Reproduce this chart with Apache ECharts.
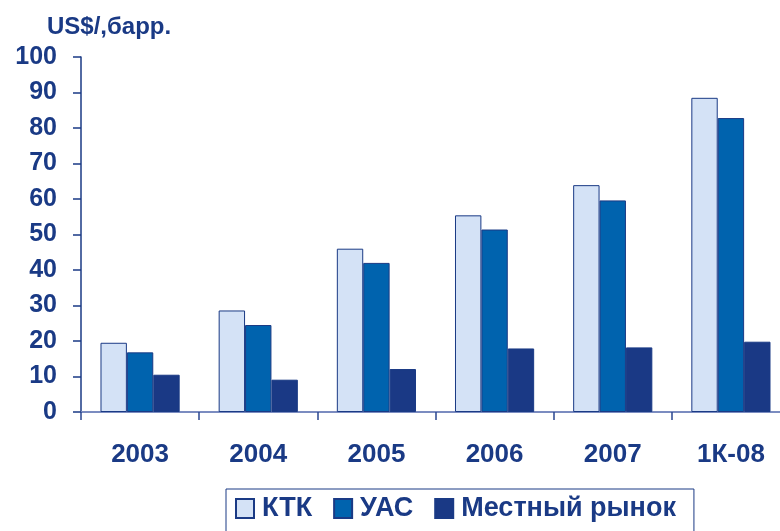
<!DOCTYPE html>
<html>
<head>
<meta charset="utf-8">
<script src="https://cdn.jsdelivr.net/npm/echarts@6/dist/echarts.min.js"></script>
<style>
  html, body { margin: 0; padding: 0; background: #fff; }
  #chart { width: 780px; height: 531px; }
</style>
</head>
<body>
<div id="chart"></div>
<script>
// Categories and values
const years = ['2003', '2004', '2005', '2006', '2007', '1К-08'];
const ktk = [19.5, 28.6, 46.0, 55.4, 63.9, 88.5];
const uas = [16.8, 24.5, 42.0, 51.4, 59.6, 82.8];
const local = [10.5, 9.1, 12.1, 17.9, 18.2, 19.8];
const seriesNames = ['КТК', 'УАС', 'Местный рынок'];

const navy = '#1a3a85';
const font = '"Liberation Sans", Arial, sans-serif';

const chart = echarts.init(document.getElementById('chart'));

const barSeries = (name, data, color) => ({
  name,
  type: 'bar',
  data,
  barGap: '0%',
  barCategoryGap: '33%',
  itemStyle: {
    color,
    borderColor: navy,
    borderWidth: 1,
  },
});

chart.setOption({
  animation: false,
  textStyle: { fontFamily: font },
  title: {
    text: 'US$/,барр.',
    left: 42,
    top: 10,
    textStyle: { color: navy, fontSize: 24, fontWeight: 'bold', fontFamily: font },
  },
  grid: {
    left: 81,
    top: 57,
    width: 709,
    bottom: 119,
    outerBoundsMode: 'none',
  },
  xAxis: {
    type: 'category',
    data: years,
    axisLine: { lineStyle: { color: '#7b8cc0', width: 2 } },
    axisTick: { show: true, length: 8, lineStyle: { color: '#2a4690', width: 1.5 } },
    axisLabel: {
      color: navy,
      fontSize: 26,
      fontWeight: 'bold',
      fontFamily: font,
      margin: 30,
    },
  },
  yAxis: {
    type: 'value',
    min: 0,
    max: 100,
    interval: 10,
    splitLine: { show: false },
    axisLine: { show: true, lineStyle: { color: navy, width: 1.5 } },
    axisTick: { show: true, length: 8, lineStyle: { color: navy, width: 1.5 } },
    axisLabel: {
      color: navy,
      fontSize: 25,
      fontWeight: 'bold',
      fontFamily: font,
      margin: 24,
    },
  },
  legend: {
    data: seriesNames,
    left: 226,
    top: 489,
    icon: 'rect',
    itemWidth: 18,
    itemHeight: 19,
    itemGap: 21,
    borderColor: navy,
    borderWidth: 1,
    padding: [6, 18, 20, 9],
    textStyle: { color: navy, fontSize: 27, fontWeight: 'bold', fontFamily: font, padding: [0, 0, 0, 3] },
  },
  series: [
    barSeries(seriesNames[0], ktk, '#d4e2f6'),
    barSeries(seriesNames[1], uas, '#0063ae'),
    barSeries(seriesNames[2], local, '#1a3985'),
  ],
});
</script>
</body>
</html>
